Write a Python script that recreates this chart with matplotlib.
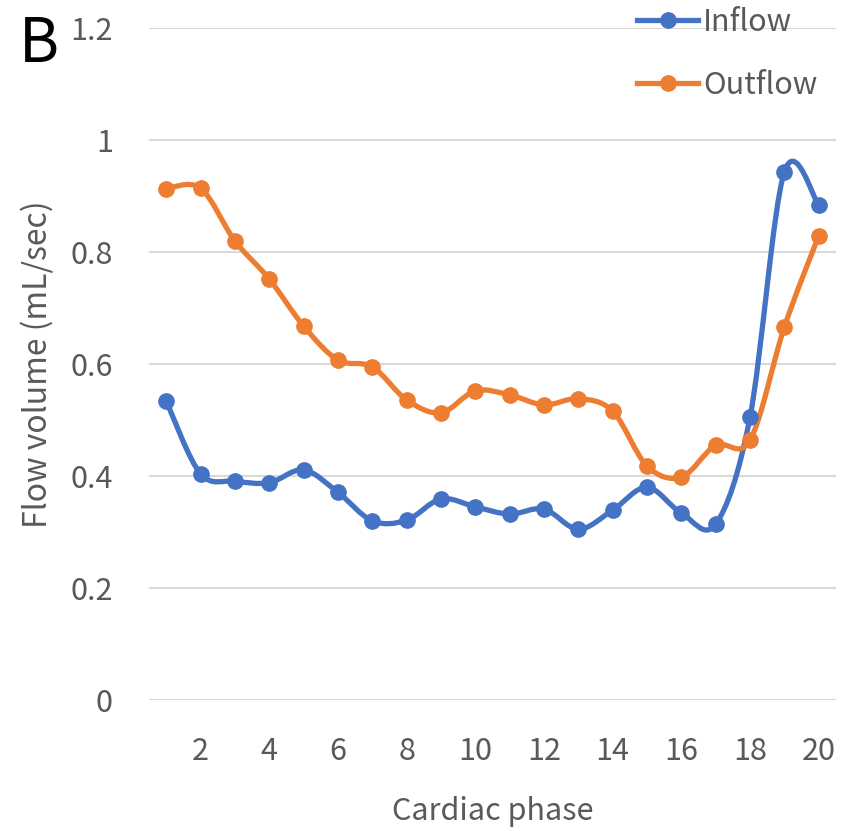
import matplotlib
matplotlib.use("Agg")
import matplotlib.pyplot as plt
from matplotlib.path import Path
from matplotlib.patches import PathPatch
from matplotlib.lines import Line2D

phase = list(range(1, 21))
inflow = [0.534, 0.404, 0.391, 0.388, 0.411, 0.371, 0.320, 0.321, 0.359, 0.345,
          0.332, 0.341, 0.305, 0.339, 0.380, 0.334, 0.314, 0.505, 0.943, 0.884]
outflow = [0.913, 0.914, 0.820, 0.752, 0.668, 0.607, 0.595, 0.536, 0.513, 0.552,
           0.545, 0.527, 0.538, 0.516, 0.418, 0.398, 0.455, 0.464, 0.666, 0.829]
series_names = ["Inflow", "Outflow"]
colors = ["#4472C4", "#ED7D31"]
yticks = [0, 0.2, 0.4, 0.6, 0.8, 1.0, 1.2]
ytick_labels = ["0", "0.2", "0.4", "0.6", "0.8", "1", "1.2"]
xticks = [2, 4, 6, 8, 10, 12, 14, 16, 18, 20]

plt.rcParams['font.family'] = ["Noto Sans CJK JP", "DejaVu Sans"]
grey = "#595959"

fig = plt.figure(figsize=(8.48, 8.31), dpi=100)
ax = fig.add_axes([0.1757, 0.1576, 0.81, 0.8087])


def smooth_path(xs, ys):
    n = len(xs)
    verts = [(xs[0], ys[0])]
    codes = [Path.MOVETO]
    for i in range(n - 1):
        x0, y0 = (xs[i - 1], ys[i - 1]) if i > 0 else (xs[i], ys[i])
        x1, y1 = xs[i], ys[i]
        x2, y2 = xs[i + 1], ys[i + 1]
        x3, y3 = (xs[i + 2], ys[i + 2]) if i + 2 < n else (x2, y2)
        c1 = (x1 + (x2 - x0) / 6.0, y1 + (y2 - y0) / 6.0)
        c2 = (x2 - (x3 - x1) / 6.0, y2 - (y3 - y1) / 6.0)
        verts += [c1, c2, (x2, y2)]
        codes += [Path.CURVE4] * 3
    return Path(verts, codes)


for name, ys, c in zip(series_names, [inflow, outflow], colors):
    patch = PathPatch(smooth_path(phase, ys), facecolor="none", edgecolor=c,
                      lw=3.8, capstyle="round", joinstyle="round", zorder=3)
    ax.add_patch(patch)
    ax.plot(phase, ys, "o", color=c, markersize=11, zorder=4)

ax.set_xlim(0.5, 20.5)
ax.set_ylim(0, 1.2)
ax.set_yticks(yticks)
ax.set_yticklabels(ytick_labels)
ax.set_xticks(xticks)
ax.grid(axis="y", color="#D9D9D9", lw=1.5)
ax.set_axisbelow(True)
for s in ax.spines.values():
    s.set_visible(False)
ax.tick_params(axis="both", length=0, labelsize=22, labelcolor=grey)
ax.tick_params(axis="y", pad=26)
ax.tick_params(axis="x", pad=26)
ax.set_xlabel("Cardiac phase", fontsize=22, color=grey, labelpad=21)
ax.set_ylabel("Flow volume (mL/sec)", fontsize=23, color=grey, labelpad=12)

handles = [Line2D([0], [0], color=c, lw=3.8, marker="o", markersize=11) for c in colors]
leg = fig.legend(handles, series_names, loc="upper left", bbox_to_anchor=(0.719, 1.025),
                 frameon=False, fontsize=22, handlelength=2.0, handletextpad=0.15,
                 labelspacing=1.05, labelcolor=grey)

fig.text(0.022, 0.925, "B", fontsize=44, color="black", ha="left", va="baseline")

fig.savefig("out.png", dpi=100)
